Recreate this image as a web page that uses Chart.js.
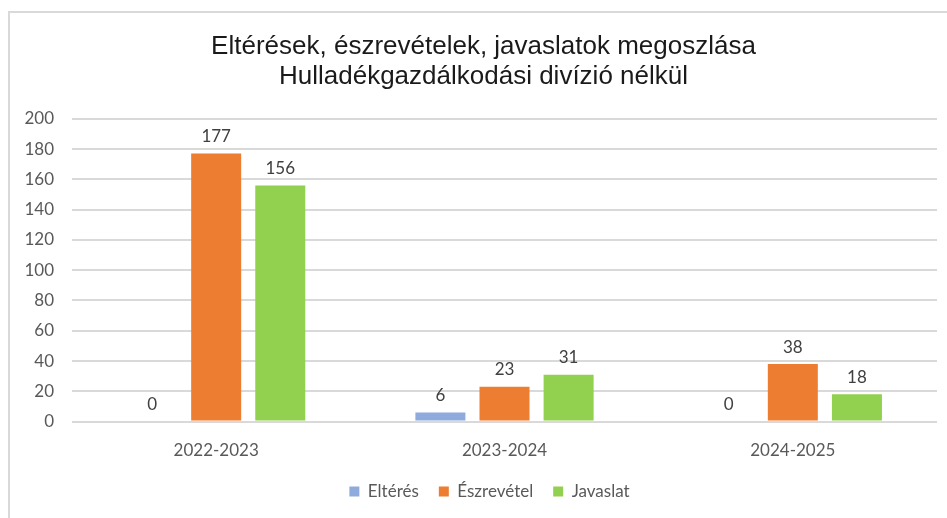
<!DOCTYPE html>
<html>
<head>
<meta charset="utf-8">
<script src="https://cdn.jsdelivr.net/npm/chart.js@4.4.1/dist/chart.umd.min.js"></script>
<style>
  html, body { margin: 0; padding: 0; background: #fff; }
  #wrap { position: relative; width: 947px; height: 518px; overflow: hidden; }
  #frame { position: absolute; left: 8px; top: 11px; width: 1000px; height: 600px;
           border-left: 2px solid #d9d9d9; border-top: 2px solid #d9d9d9; }
  canvas { position: absolute; left: 0; top: 0; }
</style>
</head>
<body>
<div id="wrap">
  <div id="frame"></div>
  <canvas id="chart" width="947" height="518"></canvas>
</div>
<script>
const titleLines = ['Eltérések, észrevételek, javaslatok megoszlása', 'Hulladékgazdálkodási divízió nélkül'];
const categories = ['2022-2023', '2023-2024', '2024-2025'];
const elteres = [0, 6, 0];
const eszrevetel = [177, 23, 38];
const javaslat = [156, 31, 18];
const seriesNames = ['Eltérés', 'Észrevétel', 'Javaslat'];
const yTicks = [0, 20, 40, 60, 80, 100, 120, 140, 160, 180, 200];

const tickFont = { family: 'Lato, "Open Sans", sans-serif', size: 17 };

// value labels above each bar
const barLabels = {
  id: 'barLabels',
  afterDatasetsDraw(chart) {
    const ctx = chart.ctx;
    ctx.save();
    ctx.font = '17px Lato, "Open Sans", sans-serif';
    ctx.fillStyle = '#404040';
    ctx.textAlign = 'center';
    ctx.textBaseline = 'middle';
    chart.data.datasets.forEach((ds, i) => {
      chart.getDatasetMeta(i).data.forEach((bar, j) => {
        ctx.fillText(String(ds.data[j]), bar.x, bar.y - 17);
      });
    });
    ctx.restore();
  }
};

// legend: a bit shorter box (so the plot reaches lower); legend and title a bit right of centre
const LEGEND_TRIM = 9;
const boxTweak = {
  id: 'boxTweak',
  afterInit(chart) {
    const lg = chart.legend;
    const fit = lg.fit.bind(lg);
    lg.fit = function () { fit(); this.height -= LEGEND_TRIM; };
  },
  afterLayout(chart) {
    const lg = chart.legend;
    lg.top -= LEGEND_TRIM;
    lg.bottom -= LEGEND_TRIM;
    lg.left += 16;
    lg.right += 16;
    const tb = chart.titleBlock;
    tb.left += 20;
  }
};

new Chart(document.getElementById('chart'), {
  type: 'bar',
  data: {
    labels: categories,
    datasets: [
      { label: seriesNames[0], data: elteres, backgroundColor: '#8faadc' },
      { label: seriesNames[1], data: eszrevetel, backgroundColor: '#ed7d31' },
      { label: seriesNames[2], data: javaslat, backgroundColor: '#92d050' }
    ]
  },
  options: {
    responsive: false,
    animation: false,
    layout: { padding: { left: 10, right: 10, top: 0, bottom: 8 } },
    datasets: { bar: { categoryPercentage: 0.667, barPercentage: 0.78 } },
    plugins: {
      title: {
        display: true,
        text: titleLines,
        color: '#1a1a1a',
        font: { family: '"Liberation Sans", Arial, sans-serif', size: 26, weight: 'normal', lineHeight: 1.15 },
        padding: { top: 32, bottom: 27 }
      },
      legend: {
        position: 'bottom',
        labels: {
          color: '#595959',
          font: tickFont,
          boxWidth: 10,
          boxHeight: 10,
          padding: 20
        }
      },
      tooltip: { enabled: false }
    },
    scales: {
      x: {
        grid: { display: false },
        border: { display: false },
        ticks: { color: '#595959', font: tickFont, padding: 11 }
      },
      y: {
        min: 0,
        max: 200,
        afterBuildTicks(scale) { scale.ticks = yTicks.map(v => ({ value: v })); },
        afterFit(scale) { scale.width = 62; },
        grid: { color: '#d9d9d9', lineWidth: 2, drawTicks: false },
        border: { display: false },
        ticks: { color: '#595959', font: tickFont, padding: 18 }
      }
    }
  },
  plugins: [barLabels, boxTweak]
});
</script>
</body>
</html>
